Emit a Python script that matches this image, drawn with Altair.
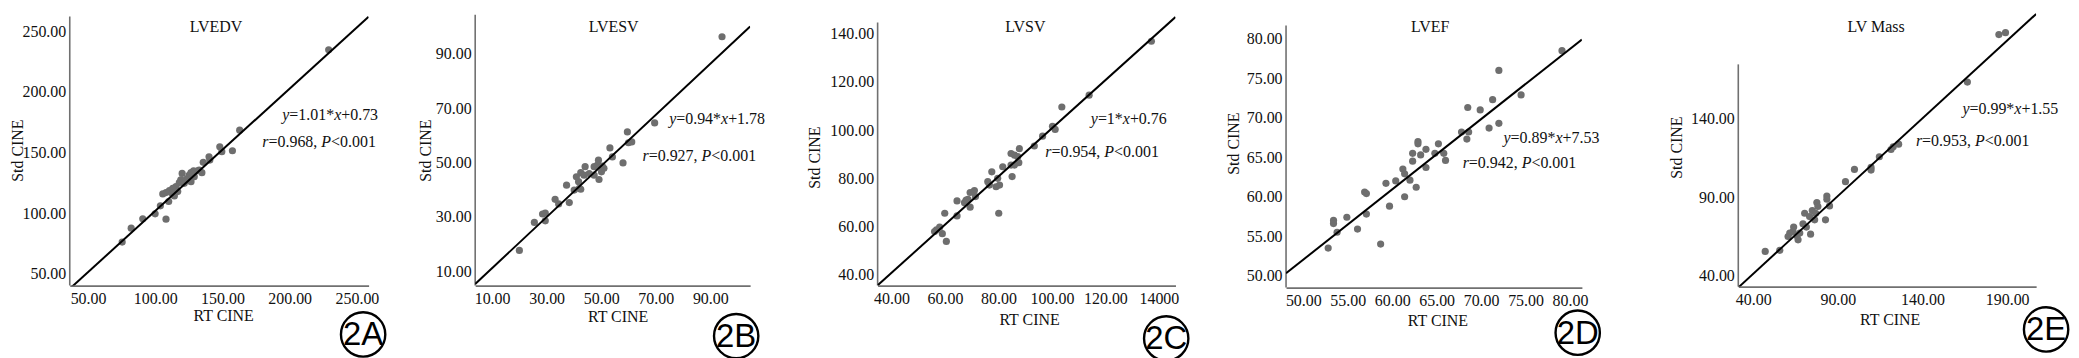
import altair as alt
import pandas as pd

# ---------------- data ----------------
titles = ["LVEDV", "LVESV", "LVSV", "LVEF", "LV Mass"]
badges = ["2A", "2B", "2C", "2D", "2E"]
slopes = [1.01, 0.94, 1.0, 0.89, 0.99]
intercepts = [0.73, 1.78, 0.76, 7.53, 1.55]
equations = ["y=1.01*x+0.73", "y=0.94*x+1.78", "y=1*x+0.76", "y=0.89*x+7.53", "y=0.99*x+1.55"]
stats = ["r=0.968, P<0.001", "r=0.927, P<0.001", "r=0.954, P<0.001",
         "r=0.942, P<0.001", "r=0.953, P<0.001"]
x_title = "RT CINE"
y_title = "Std CINE"

lvedv_rt = [229, 162.8, 157.4, 148, 149.5, 140, 140.6, 135.7, 134.7, 131.5, 128.5, 126.6,
            125.3, 124, 122.8, 120, 119, 117.9, 115.4, 113, 110.5, 114.2, 108, 105.6, 110,
            103.8, 99.9, 90.7, 108, 82.1, 75.4, 132.7, 129, 126.6, 121.6, 116.7, 112.5]
lvedv_std = [234.7, 168.4, 151.4, 154.7, 150.6, 146.4, 143.7, 141.8, 133.3, 134.9, 134.9, 133.3,
             131.4, 128.6, 127.3, 132.7, 127.3, 125.1, 121.8, 120.4, 118.5, 114.1, 116.9, 115.8, 109.5,
             105.9, 99.3, 95.2, 94.9, 87.5, 76, 135.5, 130, 125.9, 124.5, 117.7, 116.3]

lvesv_rt = [94.3, 69.6, 59.6, 60, 61.2, 53.2, 54.1, 58, 49, 48.6, 50.4, 47.4, 50.1, 47.4, 49.2,
            44.1, 42.5, 43.7, 40.9, 41.7, 42, 42.5, 40.1, 37.3, 38.3, 34.4, 33.1, 29.5, 28.5,
            29.5, 25.5, 20, 45.6, 51]
lvesv_std = [96.3, 64.6, 61.3, 57.3, 57.6, 55.4, 52.1, 49.9, 50.9, 49.1, 48.7, 48.5, 46.6, 45.4, 43.8,
             48.5, 46.3, 45.4, 44.8, 43, 40.5, 40.2, 39.9, 41.7, 35.3, 34.8, 36.5, 31.4, 31.1,
             28.6, 28, 17.7, 46, 47.9]

lvsv_rt = [137.2, 113.9, 103.7, 100.2, 101.2, 96.5, 93.4, 87.8, 84.7, 86, 87.2, 87.6, 86, 84.7,
           81.6, 85.1, 79.7, 80.4, 79.1, 77.5, 76, 76.6, 80.1, 71, 69.4, 71.4, 68.6, 67.3, 67.9,
           69.4, 64.5, 64.5, 59.9, 58, 56.8, 59, 60.5, 56.1]
lvsv_std = [136.9, 114.5, 109.6, 101.6, 100.3, 97.5, 93.4, 92.3, 90.3, 89.6, 89, 86.5, 85.5, 85.5,
            84.8, 80.7, 80, 77.2, 76.5, 82.7, 78.6, 77.2, 65.5, 74.9, 74.1, 72.4, 71.3, 69.9, 71,
            68, 70.6, 64.4, 65.5, 59.7, 58.6, 57, 53.8, 57.9]

lvef_rt = [79.1, 72, 74.5, 71.3, 68.5, 69.9, 72, 70.9, 67.8, 68.6, 68.4, 65.2, 62.9, 62.9, 63.8,
           64.8, 65.8, 62.3, 63.2, 66, 62.3, 63.8, 61.2, 61.4, 62, 60.4, 59.3, 62.7, 61.4, 56.9,
           57.1, 59.7, 57.1, 54.9, 53.4, 53.4, 53.8, 56.1, 58.7, 52.8]
lvef_std = [78.5, 76, 72.9, 72.3, 71.3, 71, 69.3, 68.7, 68.2, 68.2, 67.3, 66.7, 67, 66.7, 66,
            65.5, 65.5, 65.5, 65.3, 64.6, 64.5, 63.7, 63.5, 62.9, 62.1, 62, 61.7, 61.2, 60, 60.6,
            60.4, 58.8, 57.8, 57.4, 57, 56.6, 55.5, 55.9, 54, 53.5]

lvmass_rt = [185.1, 189, 166.5, 125.9, 122.7, 121.4, 114.5, 109.6, 109.6, 99.8, 94.5, 83.5, 83.5,
             85.1, 77.6, 74.9, 76.9, 70.4, 73.3, 76.3, 82.7, 69.4, 71.4, 63.9, 63.5, 67.5, 61.6,
             60.6, 65.9, 66.5, 73.9, 55.7, 47.1, 78.2]
lvmass_std = [193.5, 194.7, 163.2, 123.7, 122, 120.3, 115.7, 108.9, 107.2, 107.6, 99.8, 90.7, 88.6,
              84.4, 86.5, 81.4, 79.7, 79.7, 77.6, 75.5, 75.5, 73, 70.9, 70.9, 68.1, 67.1, 67.1,
              64.9, 65.4, 62.8, 66.4, 56.1, 55.4, 84]

rt_values = [lvedv_rt, lvesv_rt, lvsv_rt, lvef_rt, lvmass_rt]
std_values = [lvedv_std, lvesv_std, lvsv_std, lvef_std, lvmass_std]

x_ticks = [[50, 100, 150, 200, 250], [10, 30, 50, 70, 90], [40, 60, 80, 100, 120, 140],
           [50, 55, 60, 65, 70, 75, 80], [40, 90, 140, 190]]
x_tick_labels = [["50.00", "100.00", "150.00", "200.00", "250.00"],
                 ["10.00", "30.00", "50.00", "70.00", "90.00"],
                 ["40.00", "60.00", "80.00", "100.00", "120.00", "14000"],
                 ["50.00", "55.00", "60.00", "65.00", "70.00", "75.00", "80.00"],
                 ["40.00", "90.00", "140.00", "190.00"]]
y_ticks = [[50, 100, 150, 200, 250], [10, 30, 50, 70, 90], [40, 60, 80, 100, 120, 140],
           [50, 55, 60, 65, 70, 75, 80], [40, 90, 140]]
y_tick_labels = [["50.00", "100.00", "150.00", "200.00", "250.00"],
                 ["10.00", "30.00", "50.00", "70.00", "90.00"],
                 ["40.00", "60.00", "80.00", "100.00", "120.00", "140.00"],
                 ["50.00", "55.00", "60.00", "65.00", "70.00", "75.00", "80.00"],
                 ["40.00", "90.00", "140.00"]]

# ---------------- layout / style ----------------
x_domains = [[36.4, 258.7], [3.8, 104.6], [34.8, 146.2], [48.06, 81.34], [31.2, 207.1]]
y_domains = [[40.1, 267.0], [4.76, 105.9], [35.45, 149.6], [48.49, 83.57], [33.0, 208.7]]
y_axis_tops = [262.1, 104.4, 144.7, 81.68, 174.5]
plot_w = [300, 276, 299, 297, 299]
plot_h = [276, 276, 276, 278, 277]
gaps = [107, 128, 111, 157]
ytitle_x = [-52, -50, -63, -53, -62]
ytitle_y = [140, 140, 147, 133, 137]
xtitle_x = [154, 143, 152, 152, 152]
xtitle_y = [30, 31, 34, 33, 33]
head_x = [146.7, 139, 148.3, 144.7, 138.3]
head_y = 16.7
eq_pos = [(213.3, 104.3), (194.7, 109), (214, 108.3), (218.3, 127.7), (225, 98.3)]
st_pos = [(193.3, 131.7), (168, 146), (168.3, 141.7), (177.3, 153.3), (178.3, 130.7)]
badge_pos = [(294.5, 325), (262, 326.7), (289.7, 329), (292.8, 323.3), (309, 320)]

SERIF = "Liberation Serif"
SANS = "Liberation Sans"
FS = 16
AXIS_COLOR = "#707070"
TEXT_COLOR = "#111111"
POINT_COLOR = "#6e6e6e"

W_NORMAL = {c: 0.5 for c in "0123456789"}
W_NORMAL.update({".": 0.25, ",": 0.25, " ": 0.25, "=": 0.564, "*": 0.5, "+": 0.564, "<": 0.564})
W_ITALIC = {"x": 0.444, "y": 0.444, "r": 0.389, "P": 0.611}

one = pd.DataFrame({"k": [0]})


def runs(s):
    out = []
    for ch in s:
        it = ch in W_ITALIC
        if out and out[-1][1] == it:
            out[-1][0] += ch
        else:
            out.append([ch, it])
    return out


def rich_text(s, x0, y0):
    layers = []
    x = x0
    for txt, it in runs(s):
        layers.append(
            alt.Chart(one).mark_text(
                text=txt, font=SERIF, fontSize=FS,
                fontStyle="italic" if it else "normal",
                align="left", baseline="middle", color=TEXT_COLOR,
            ).encode(x=alt.value(x), y=alt.value(y0))
        )
        x += sum((W_ITALIC if it else W_NORMAL)[c] for c in txt) * FS
    return layers


def label_expr(vals, labels):
    expr = "''"
    for v, l in reversed(list(zip(vals, labels))):
        expr = f"datum.value == {v} ? '{l}' : ({expr})"
    return expr


def panel(i):
    df = pd.DataFrame({"x": rt_values[i], "y": std_values[i]})
    xs = alt.Scale(domain=x_domains[i], nice=False, zero=False)
    ys = alt.Scale(domain=y_domains[i], nice=False, zero=False)
    x_axis = alt.Axis(
        values=x_ticks[i], labelExpr=label_expr(x_ticks[i], x_tick_labels[i]),
        title=x_title, titleX=xtitle_x[i], titleY=xtitle_y[i],
        titleBaseline="middle", titleAlign="center",
        grid=False, ticks=False, labelPadding=5,
        labelFlush=False, labelOverlap=False,
        domainColor=AXIS_COLOR, domainWidth=1.6,
        labelFont=SERIF, labelFontSize=FS, labelColor=TEXT_COLOR,
        titleFont=SERIF, titleFontSize=FS, titleFontWeight="normal", titleColor=TEXT_COLOR,
    )
    y_axis = alt.Axis(
        values=y_ticks[i], labelExpr=label_expr(y_ticks[i], y_tick_labels[i]),
        title=y_title, titleX=ytitle_x[i], titleY=ytitle_y[i],
        titleBaseline="middle", titleAlign="center",
        grid=False, ticks=False, labelPadding=4,
        labelFlush=False, labelOverlap=False, domain=False,
        labelFont=SERIF, labelFontSize=FS, labelColor=TEXT_COLOR,
        titleFont=SERIF, titleFontSize=FS, titleFontWeight="normal", titleColor=TEXT_COLOR,
    )
    pts = alt.Chart(df).mark_circle(size=52, color=POINT_COLOR, opacity=1).encode(
        x=alt.X("x:Q", scale=xs, axis=x_axis),
        y=alt.Y("y:Q", scale=ys, axis=y_axis),
    )
    ends = pd.DataFrame({"x": x_domains[i]})
    line = alt.Chart(ends).transform_calculate(
        y=f"{slopes[i]} * datum.x + {intercepts[i]}"
    ).mark_line(color="black", strokeWidth=2, clip=True).encode(
        x=alt.X("x:Q", scale=xs, axis=x_axis),
        y=alt.Y("y:Q", scale=ys, axis=y_axis),
    )
    axis_df = pd.DataFrame({"y": [y_domains[i][0]], "y_top": [y_axis_tops[i]]})
    yline = alt.Chart(axis_df).mark_rule(color=AXIS_COLOR, strokeWidth=1.6).encode(
        x=alt.value(0),
        y=alt.Y("y:Q", scale=ys, axis=y_axis),
        y2="y_top:Q",
    )
    head = alt.Chart(one).mark_text(
        text=titles[i], font=SERIF, fontSize=FS, align="center", baseline="middle",
        color=TEXT_COLOR,
    ).encode(x=alt.value(head_x[i]), y=alt.value(head_y))
    bx, by = badge_pos[i]
    ring = alt.Chart(one).mark_point(
        shape="circle", filled=False, size=1980, stroke="black", strokeWidth=2.4, opacity=1
    ).encode(x=alt.value(bx), y=alt.value(by))
    btxt = alt.Chart(one).mark_text(
        text=badges[i], font=SANS, fontSize=33, align="center", baseline="middle",
        color="black",
    ).encode(x=alt.value(bx), y=alt.value(by + 1))
    layers = [pts, yline, line, head, ring, btxt]
    layers += rich_text(equations[i], *eq_pos[i])
    layers += rich_text(stats[i], *st_pos[i])
    return alt.layer(*layers).properties(width=plot_w[i], height=plot_h[i])


def spacer(w):
    return alt.Chart(one).mark_point(opacity=0).encode(
        x=alt.value(0), y=alt.value(0)
    ).properties(width=w, height=1)


cells = []
for i in range(5):
    cells.append(panel(i))
    if i < 4:
        cells.append(spacer(gaps[i]))

chart = alt.hconcat(*cells, spacing=0, bounds="flush").properties(
    autosize=alt.AutoSizeParams(type="none"),
    padding={"left": 62, "top": 2, "right": 2009, "bottom": 348},
    background="white",
).configure_view(stroke=None)

chart.save("out.html", embed_options={"renderer": "svg", "actions": False})
